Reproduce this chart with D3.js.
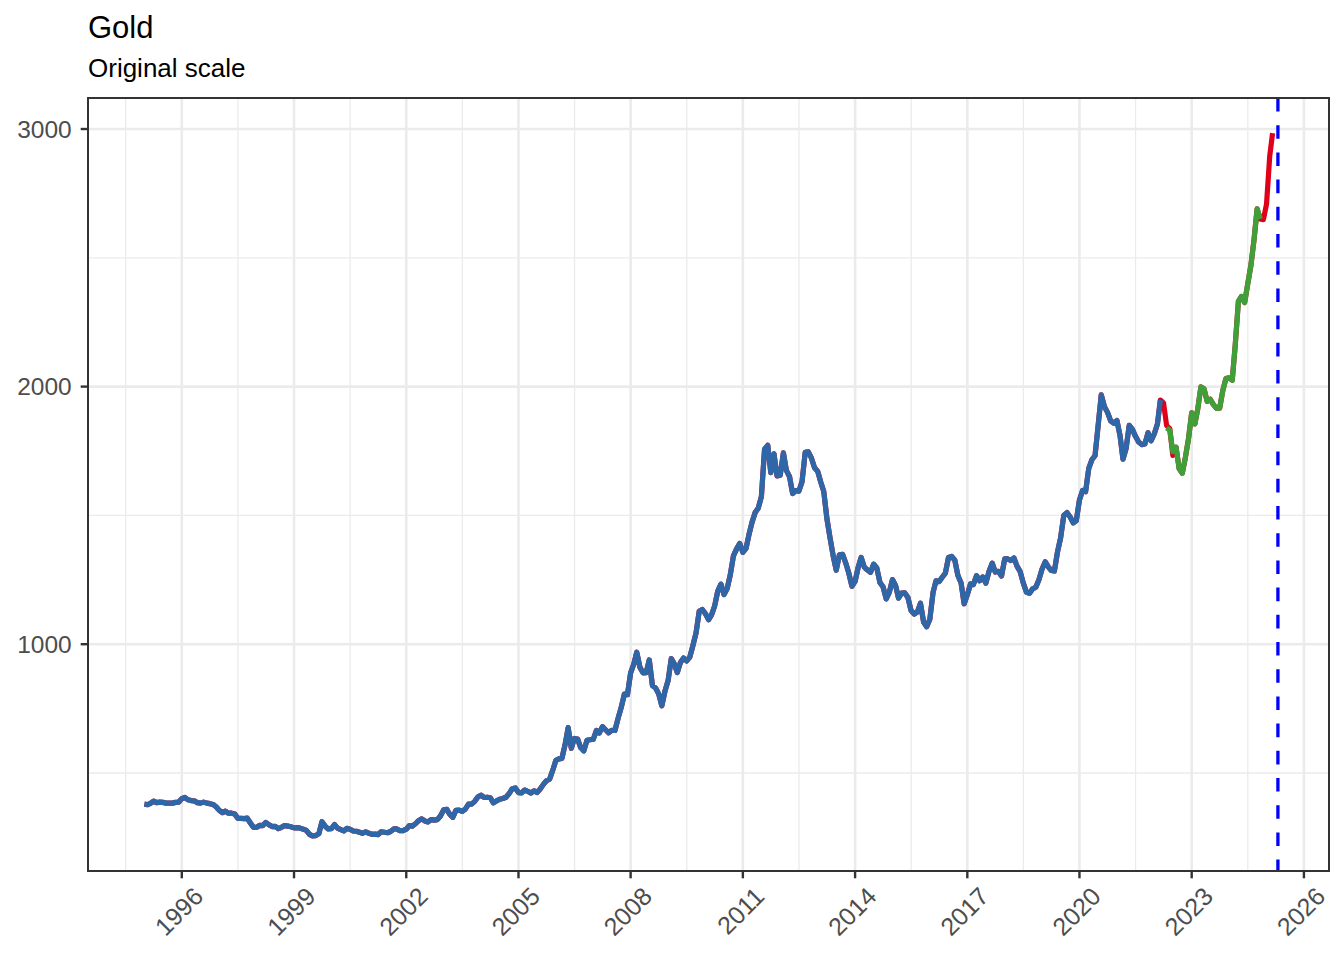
<!DOCTYPE html>
<html>
<head>
<meta charset="utf-8">
<script src="https://cdn.jsdelivr.net/npm/d3@7"></script>
<style>
  body { margin: 0; background: #ffffff; }
  text { font-family: "Liberation Sans", Arial, Helvetica, sans-serif; }
</style>
</head>
<body>
<div id="chart"></div>
<script>
// monthly gold price (USD/oz), one value per month starting Jan 1995
const price1995to2004 = [
  379, 377, 382, 391, 385, 387, 386, 383, 383, 383, 386, 387,
  400, 405, 396, 393, 392, 385, 383, 387, 383, 381, 378, 369,
  355, 346, 352, 344, 344, 341, 324, 324, 323, 325, 306, 289,
  289, 297, 296, 308, 299, 292, 293, 284, 289, 296, 294, 291,
  287, 288, 286, 282, 277, 262, 256, 257, 265, 311, 293, 283,
  284, 300, 286, 280, 275, 285, 282, 275, 274, 270, 266, 272,
  266, 262, 263, 261, 272, 270, 268, 273, 283, 283, 276, 276,
  282, 296, 294, 303, 315, 322, 314, 310, 319, 317, 319, 333,
  357, 359, 340, 328, 355, 356, 351, 360, 379, 379, 390, 407,
  414, 405, 406, 404, 384, 392, 398, 401, 406, 420, 439, 442
];
const price2005to2014 = [
  424, 423, 434, 429, 422, 431, 424, 438, 456, 470, 476, 510,
  549, 555, 557, 610, 676, 596, 634, 632, 598, 586, 627, 629,
  631, 665, 655, 680, 668, 656, 666, 665, 713, 754, 806, 804,
  889, 923, 969, 910, 889, 890, 939, 839, 830, 807, 761, 817,
  859, 944, 925, 890, 929, 946, 935, 950, 996, 1044, 1128, 1135,
  1118, 1095, 1114, 1149, 1206, 1233, 1193, 1216, 1271, 1343, 1370, 1391,
  1357, 1372, 1424, 1474, 1511, 1529, 1573, 1757, 1772, 1666, 1739, 1653,
  1656, 1743, 1675, 1650, 1585, 1596, 1594, 1631, 1745, 1747, 1722, 1685,
  1671, 1628, 1593, 1487, 1414, 1343, 1287, 1347, 1349, 1316, 1275, 1225,
  1244, 1300, 1337, 1299, 1288, 1279, 1311, 1296, 1239, 1223, 1176, 1201
];
const price2015to2025 = [
  1251, 1227, 1179, 1198, 1199, 1181, 1131, 1117, 1125, 1159, 1086, 1068,
  1097, 1200, 1246, 1243, 1260, 1276, 1337, 1341, 1326, 1267, 1238, 1157,
  1192, 1234, 1231, 1266, 1246, 1261, 1237, 1283, 1315, 1280, 1283, 1265,
  1331, 1331, 1325, 1335, 1303, 1282, 1238, 1202, 1198, 1215, 1221, 1250,
  1292, 1320, 1301, 1286, 1284, 1359, 1413, 1500, 1511, 1495, 1471, 1480,
  1560, 1597, 1592, 1683, 1716, 1732, 1847, 1968, 1922, 1900, 1867, 1858,
  1868, 1808, 1718, 1761, 1850, 1834, 1807, 1785, 1775, 1777, 1821, 1790,
  1817, 1856, 1948, 1937, 1849, 1837, 1733, 1765, 1681, 1664, 1726, 1798,
  1898, 1855, 1913, 1999, 1992, 1943, 1951, 1930, 1916, 1916, 1985, 2031,
  2034, 2025, 2160, 2331, 2350, 2326, 2398, 2470, 2571, 2690, 2651, 2648,
  2709, 2895, 2984
];
// test period line (green), one value per month starting May 2022
const testValues = [
  1840, 1831, 1748, 1765, 1681, 1664, 1726, 1798,
  1898, 1855, 1913, 1999, 1992, 1943, 1951, 1930, 1916, 1916, 1985, 2031,
  2034, 2025, 2160, 2331, 2350, 2326, 2398, 2470, 2571, 2690, 2651
];

const seriesStart = "1995-01-01";
const trainEnd = "2022-03-01";
const testStart = "2022-05-01";
const cutoffDate = "2025-04-22";

const xTickYears = [1996, 1999, 2002, 2005, 2008, 2011, 2014, 2017, 2020, 2023, 2026];
const yTicks = [1000, 2000, 3000];
const yMinorTicks = [500, 1500, 2500];

const titleText = "Gold";
const subtitleText = "Original scale";

// colours
const colActual = "#e0001b";
const colTrain = "#2e67a8";
const colTest = "#3f9f39";
const colCutoff = "#0000ff";

// ---- build series ----
const parse = d3.timeParse("%Y-%m-%d");
const start = parse(seriesStart);
const prices = price1995to2004.concat(price2005to2014, price2015to2025);

const actual = prices.map((v, i) => ({ date: d3.timeMonth.offset(start, i), value: v }));
const train = actual.filter(d => d.date <= parse(trainEnd));
const test = testValues.map((v, i) => ({ date: d3.timeMonth.offset(parse(testStart), i), value: v }));

// ---- layout ----
const svgWidth = 1344, svgHeight = 960;
const margin = { top: 98, right: 15, bottom: 89, left: 88 };
const width = svgWidth - margin.left - margin.right;
const height = svgHeight - margin.top - margin.bottom;

const svg = d3.select("#chart").append("svg")
  .attr("width", svgWidth)
  .attr("height", svgHeight)
  .attr("viewBox", `0 0 ${svgWidth} ${svgHeight}`);

svg.append("rect").attr("width", svgWidth).attr("height", svgHeight).attr("fill", "#ffffff");

// ggplot style 5% expansion on both scales
const xExt = d3.extent(actual, d => d.date);
const xPad = (xExt[1] - xExt[0]) * 0.05;
const x = d3.scaleTime()
  .domain([new Date(+xExt[0] - xPad), new Date(+xExt[1] + xPad)])
  .range([0, width]);

const allValues = prices.concat(testValues);
const yMin = d3.min(allValues), yMax = d3.max(allValues);
const yPad = (yMax - yMin) * 0.05;
const y = d3.scaleLinear()
  .domain([yMin - yPad, yMax + yPad])
  .range([height, 0]);

const g = svg.append("g").attr("transform", `translate(${margin.left},${margin.top})`);

// ---- grid ----
const xTicks = xTickYears.map(yr => new Date(yr, 0, 1));
const xMinor = xTicks.map((d, i) => {
  const prev = i === 0 ? new Date(xTickYears[0] - 3, 0, 1) : xTicks[i - 1];
  return new Date((+prev + +d) / 2);
}).filter(d => d >= x.domain()[0] && d <= x.domain()[1]);

g.append("g").selectAll("line.yminor").data(yMinorTicks).join("line")
  .attr("x1", 0).attr("x2", width)
  .attr("y1", d => y(d)).attr("y2", d => y(d))
  .attr("stroke", "#ebebeb").attr("stroke-width", 1.3);

g.append("g").selectAll("line.xminor").data(xMinor).join("line")
  .attr("x1", d => x(d)).attr("x2", d => x(d))
  .attr("y1", 0).attr("y2", height)
  .attr("stroke", "#ebebeb").attr("stroke-width", 1.3);

g.append("g").selectAll("line.ymajor").data(yTicks).join("line")
  .attr("x1", 0).attr("x2", width)
  .attr("y1", d => y(d)).attr("y2", d => y(d))
  .attr("stroke", "#ebebeb").attr("stroke-width", 2.6);

g.append("g").selectAll("line.xmajor").data(xTicks).join("line")
  .attr("x1", d => x(d)).attr("x2", d => x(d))
  .attr("y1", 0).attr("y2", height)
  .attr("stroke", "#ebebeb").attr("stroke-width", 2.6);

// ---- lines ----
const line = d3.line()
  .x(d => x(d.date))
  .y(d => y(d.value));

const drawLine = (data, colour) => {
  g.append("path")
    .datum(data)
    .attr("fill", "none")
    .attr("stroke", colour)
    .attr("stroke-width", 5.2)
    .attr("stroke-linejoin", "round")
    .attr("stroke-linecap", "butt")
    .attr("d", line);
};

drawLine(actual, colActual);
drawLine(train, colTrain);
drawLine(test, colTest);

// cutoff marker
const cx = x(parse(cutoffDate));
g.append("line")
  .attr("x1", cx).attr("x2", cx)
  .attr("y1", 0).attr("y2", height)
  .attr("stroke", colCutoff)
  .attr("stroke-width", 3.3)
  .attr("stroke-dasharray", "13.6,13.6");

// panel border
g.append("rect")
  .attr("x", 0).attr("y", 0)
  .attr("width", width).attr("height", height)
  .attr("fill", "none")
  .attr("stroke", "#333333")
  .attr("stroke-width", 2);

// ---- axes ----
const tickLen = 7.3;

const yAxis = g.append("g");
yAxis.selectAll("line").data(yTicks).join("line")
  .attr("x1", -tickLen).attr("x2", 0)
  .attr("y1", d => y(d)).attr("y2", d => y(d))
  .attr("stroke", "#333333").attr("stroke-width", 2.4);
yAxis.selectAll("text").data(yTicks).join("text")
  .attr("x", -tickLen - 9)
  .attr("y", d => y(d))
  .attr("dy", "0.35em")
  .attr("text-anchor", "end")
  .attr("font-size", 24.5)
  .attr("fill", "#4d4d4d")
  .text(d => d);

const xAxis = g.append("g");
xAxis.selectAll("line").data(xTicks).join("line")
  .attr("x1", d => x(d)).attr("x2", d => x(d))
  .attr("y1", height).attr("y2", height + tickLen)
  .attr("stroke", "#333333").attr("stroke-width", 2.4);
xAxis.selectAll("text").data(xTicks).join("text")
  .attr("transform", d => `translate(${x(d) + 23},${height + 27}) rotate(-45)`)
  .attr("text-anchor", "end")
  .attr("font-size", 25)
  .attr("fill", "#4d4d4d")
  .text(d => d3.timeFormat("%Y")(d));

// ---- titles ----
svg.append("text")
  .attr("x", margin.left)
  .attr("y", 37.5)
  .attr("font-size", 31)
  .attr("fill", "#000000")
  .text(titleText);

svg.append("text")
  .attr("x", margin.left)
  .attr("y", 77)
  .attr("font-size", 26)
  .attr("fill", "#000000")
  .text(subtitleText);
</script>
</body>
</html>
